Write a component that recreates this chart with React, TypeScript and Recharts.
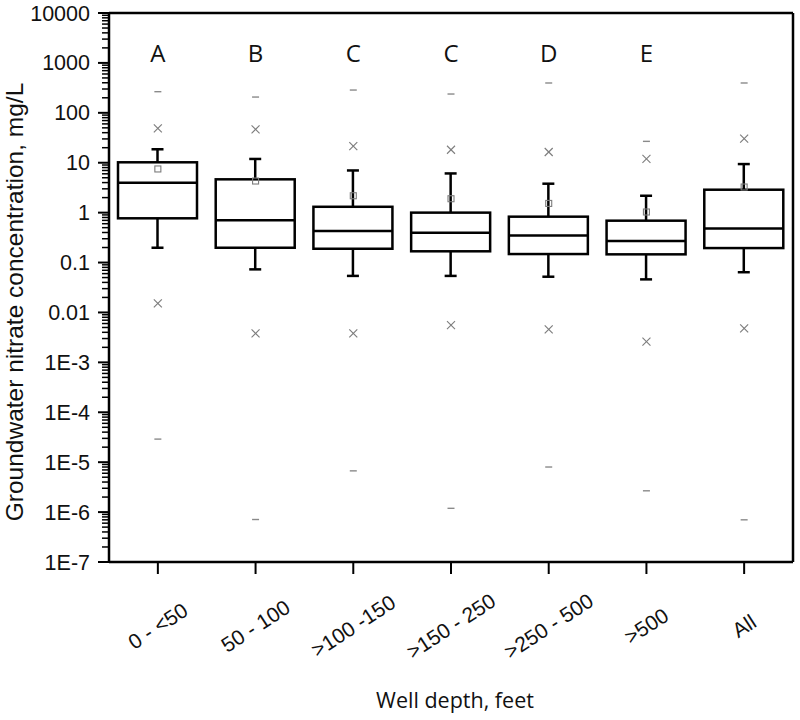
import { ComposedChart, Bar, Scatter, XAxis, YAxis } from "recharts";

// well depth groups (x axis) and the significance letters above each box
const categories = ["0 - <50", "50 - 100", ">100 -150", ">150 - 250", ">250 - 500", ">500", "All"];
const letters = ["A", "B", "C", "C", "D", "E", ""];

// nitrate, mg/L
const maxV = [265, 207, 286, 238, 396, 26.8, 396];
const p99 = [48.9, 46.7, 21.6, 18.2, 16.4, 11.9, 30.3];
const whiskerHigh = [18.6, 11.9, 7.0, 6.1, 3.8, 2.18, 9.4];
const q3 = [10.2, 4.65, 1.31, 1.0, 0.83, 0.69, 2.88];
const mean = [7.5, 4.3, 2.18, 1.9, 1.53, 1.03, 3.26];
const median = [3.97, 0.7, 0.43, 0.395, 0.35, 0.27, 0.48];
const q1 = [0.77, 0.198, 0.189, 0.168, 0.148, 0.146, 0.195];
const whiskerLow = [0.198, 0.073, 0.054, 0.054, 0.052, 0.046, 0.064];
const p1 = [0.0152, 0.0038, 0.0038, 0.0056, 0.0046, 0.0026, 0.0048];
const minV = [2.9e-5, 7.1e-7, 6.7e-6, 1.19e-6, 8.0e-6, 2.67e-6, 7.0e-7];

// y axis
const yTickValues = [1e-7, 1e-6, 1e-5, 1e-4, 1e-3, 0.01, 0.1, 1, 10, 100, 1000, 10000];
const yTickLabels = ["1E-7", "1E-6", "1E-5", "1E-4", "1E-3", "0.01", "0.1", "1", "10", "100", "1000", "10000"];

const Y_TITLE = "Groundwater nitrate concentration, mg/L";
const X_TITLE = "Well depth, feet";

// minor ticks 2..9 inside every decade
const minorTicks: number[] = [];
yTickValues.slice(0, -1).forEach(v => {
  for (let k = 2; k <= 9; k++) minorTicks.push(v * k);
});
const allYTicks = [...yTickValues, ...minorTicks].sort((a, b) => a - b);

const data = categories.map((cat, i) => ({
  cat,
  lowWhisker: [whiskerLow[i], q1[i]],
  box: [q1[i], q3[i]],
  highWhisker: [q3[i], whiskerHigh[i]],
  median: median[i],
  mean: mean[i],
  p1: p1[i],
  p99: p99[i],
  min: minV[i],
  max: maxV[i],
}));

const INK = "#000";
const MARK = "#7c7c7c";
const BOX_W = 79;
const CAP = 6;
const LW = 2.5;
const ARIAL = "'Liberation Sans', Arial, sans-serif";
const OPEN = "'Open Sans', sans-serif";

function WhiskerDown(props: any) {
  const { x, y, width, height } = props;
  const cx = x + width / 2;
  const top = Math.min(y, y + height);
  const bot = Math.max(y, y + height);
  return (
    <g>
      <line x1={cx} x2={cx} y1={top} y2={bot} stroke={INK} strokeWidth={LW} />
      <line x1={cx - CAP} x2={cx + CAP} y1={bot} y2={bot} stroke={INK} strokeWidth={LW} />
    </g>
  );
}

function WhiskerUp(props: any) {
  const { x, y, width, height } = props;
  const cx = x + width / 2;
  const top = Math.min(y, y + height);
  const bot = Math.max(y, y + height);
  return (
    <g>
      <line x1={cx} x2={cx} y1={top} y2={bot} stroke={INK} strokeWidth={LW} />
      <line x1={cx - CAP} x2={cx + CAP} y1={top} y2={top} stroke={INK} strokeWidth={LW} />
    </g>
  );
}

function BoxShape(props: any) {
  const { x, y, width, height } = props;
  return <rect x={x} y={Math.min(y, y + height)} width={width} height={Math.abs(height)} fill="#fff" stroke={INK} strokeWidth={LW} />;
}

function MedianShape(props: any) {
  const { cx, cy } = props;
  return <line x1={cx - BOX_W / 2} x2={cx + BOX_W / 2} y1={cy} y2={cy} stroke={INK} strokeWidth={LW} />;
}

function SquareShape(props: any) {
  const { cx, cy } = props;
  return <rect x={cx - 3} y={cy - 3} width={6} height={6} fill="none" stroke={MARK} strokeWidth={1.1} />;
}

function CrossShape(props: any) {
  const { cx, cy } = props;
  return (
    <g stroke={MARK} strokeWidth={1.1}>
      <line x1={cx - 4} x2={cx + 4} y1={cy - 4} y2={cy + 4} />
      <line x1={cx - 4} x2={cx + 4} y1={cy + 4} y2={cy - 4} />
    </g>
  );
}

function DashShape(props: any) {
  const { cx, cy } = props;
  return <line x1={cx - 3.5} x2={cx + 3.5} y1={cy} y2={cy} stroke="#8a8a8a" strokeWidth={1.4} />;
}

function NoShape() {
  return <g />;
}

function YTick(props: any) {
  const { x, y, payload } = props;
  const i = yTickValues.indexOf(payload.value);
  const major = i >= 0;
  return (
    <g>
      <line x1={x - (major ? 11 : 7)} x2={x} y1={y} y2={y} stroke={INK} strokeWidth={major ? 2 : 1.5} />
      {major && (
        <text x={x - 19} y={y} dy="0.35em" textAnchor="end" fontFamily={ARIAL} fontSize={21.5} fill="#111">
          {yTickLabels[i]}
        </text>
      )}
    </g>
  );
}

function XTick(props: any) {
  const { x, y, payload } = props;
  const ty = y + 64;
  return (
    <g>
      <line x1={x} x2={x} y1={y} y2={y + 12} stroke={INK} strokeWidth={2} />
      <text x={x} y={ty} dy="0.35em" textAnchor="middle" fontFamily={ARIAL} fontSize={21} fill="#111"
        transform={`rotate(-33, ${x}, ${ty})`}>
        {payload.value}
      </text>
    </g>
  );
}

function LetterTick(props: any) {
  const { x, y, index } = props;
  return (
    <text x={x} y={y + 49} textAnchor="middle" fontFamily={OPEN} fontSize={24} fill="#111">
      {letters[index]}
    </text>
  );
}

function YTitle() {
  const cx = 23;
  const cy = 302;
  return (
    <text x={cx} y={cy} transform={`rotate(-90, ${cx}, ${cy})`} textAnchor="middle" fontFamily={ARIAL} fontSize={24.5} fill="#111">
      {Y_TITLE}
    </text>
  );
}

function XTitle(props: any) {
  const vb = props.viewBox || {};
  const cx = (vb.x ?? 0) + (vb.width ?? 0) / 2 + 4;
  return (
    <text x={cx} y={708} textAnchor="middle" fontFamily={OPEN} fontSize={21.5} fill="#111">
      {X_TITLE}
    </text>
  );
}

const AXIS = { stroke: INK, strokeWidth: LW };

export default function App() {
  return (
    <div style={{ position: "absolute", left: 0, top: 0, background: "#fff" }}>
      <ComposedChart width={800} height={720} data={data}
        margin={{ top: 12, right: 6, bottom: 0, left: 0 }} barSize={BOX_W} barGap={-BOX_W}>
        <XAxis dataKey="cat" height={158} interval={0} tickLine={false} tickSize={0} tickMargin={0}
          axisLine={AXIS} tick={<XTick />} label={<XTitle />} />
        <XAxis xAxisId="top" dataKey="cat" orientation="top" height={1} interval={0} tickLine={false}
          tickSize={0} tickMargin={0} axisLine={AXIS} tick={<LetterTick />} />
        <YAxis type="number" scale="log" domain={[1e-7, 1e4]} allowDataOverflow ticks={allYTicks} interval={0}
          width={109} tickLine={false} tickSize={0} tickMargin={0} axisLine={AXIS} tick={<YTick />} label={<YTitle />} />
        <YAxis yAxisId="right" orientation="right" type="number" scale="log" domain={[1e-7, 1e4]} allowDataOverflow
          width={1} tick={false} tickLine={false} axisLine={AXIS} />

        <Bar dataKey="lowWhisker" shape={<WhiskerDown />} isAnimationActive={false} />
        <Bar dataKey="highWhisker" shape={<WhiskerUp />} isAnimationActive={false} />
        <Bar dataKey="box" shape={<BoxShape />} isAnimationActive={false} />

        <Scatter dataKey="median" shape={<MedianShape />} isAnimationActive={false} />
        <Scatter dataKey="mean" shape={<SquareShape />} isAnimationActive={false} />
        <Scatter dataKey="p99" shape={<CrossShape />} isAnimationActive={false} />
        <Scatter dataKey="p1" shape={<CrossShape />} isAnimationActive={false} />
        <Scatter dataKey="max" shape={<DashShape />} isAnimationActive={false} />
        <Scatter dataKey="min" shape={<DashShape />} isAnimationActive={false} />
        {/* invisible series so the top and right frame axes get a scale */}
        <Scatter xAxisId="top" yAxisId="right" dataKey="median" shape={<NoShape />} isAnimationActive={false} />
      </ComposedChart>
    </div>
  );
}
